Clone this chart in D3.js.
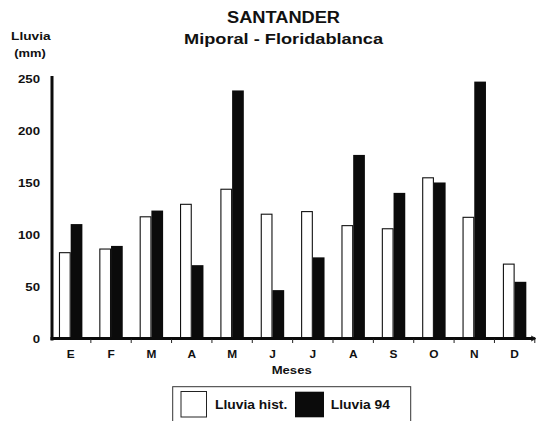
<!DOCTYPE html>
<html>
<head>
<meta charset="utf-8">
<script src="https://cdn.jsdelivr.net/npm/d3@7"></script>
<style>
  html, body { margin: 0; padding: 0; background: #fff; }
  svg { display: block; }
  text { font-family: "Liberation Sans", Arial, Helvetica, sans-serif; font-weight: bold; fill: #111; }
</style>
</head>
<body>
<script>
// ---- data ----
const months = ["E", "F", "M", "A", "M", "J", "J", "A", "S", "O", "N", "D"];
const seriesNames = ["Lluvia hist.", "Lluvia 94"];
const lluviaHist = [83, 86.5, 117.5, 129.5, 144, 120, 122.5, 109, 106, 155, 117, 72];
const lluvia94 = [110.5, 89.5, 123.5, 71, 239, 47, 78.5, 177, 140.5, 150.5, 247.5, 55];
const yTicks = [0, 50, 100, 150, 200, 250];
const titleLines = ["SANTANDER", "Miporal - Floridablanca"];
const yLabelLines = ["Lluvia", "(mm)"];
const xLabel = "Meses";

// ---- layout ----
const W = 543, H = 421;
const svg = d3.select("body").append("svg").attr("width", W).attr("height", H);
svg.append("rect").attr("width", W).attr("height", H).attr("fill", "#fff");

const x = d3.scaleBand().domain(d3.range(months.length)).range([50.5, 534.8])
  .paddingInner(0.42).paddingOuter(0.21);
const xs = d3.scaleBand().domain([0, 1]).range([0, x.bandwidth()]);
const y = d3.scaleLinear().domain([0, 250]).range([339, 79]);

// stretch helper: fit text to a target width factor
function stretch(sel, k) {
  sel.each(function () {
    const w = this.getComputedTextLength();
    d3.select(this).attr("textLength", w * k).attr("lengthAdjust", "spacingAndGlyphs");
  });
}
function label(txt, cx, by, size, width, anchor) {
  const t = svg.append("text").attr("x", cx).attr("y", by)
    .attr("font-size", size).attr("text-anchor", anchor || "middle").text(txt);
  if (width) t.attr("textLength", width).attr("lengthAdjust", "spacingAndGlyphs");
  return t;
}

// titles
label(titleLines[0], 283.5, 23.3, 16, 113);
label(titleLines[1], 283.5, 44.3, 15.5, 199);
label(yLabelLines[0], 30.8, 40, 11.5, 39.5);
label(yLabelLines[1], 30, 56.5, 11.5, 31.5);

// bars
const series = [lluviaHist, lluvia94];
const groups = svg.append("g").selectAll("g").data(months.map((m, i) => i)).join("g")
  .attr("transform", i => `translate(${x(i)},0)`);
groups.selectAll("rect").data(i => series.map((s, k) => ({ k, v: s[i] }))).join("rect")
  .attr("x", d => xs(d.k) + (d.k === 0 ? 0.5 : 0))
  .attr("width", d => xs.bandwidth() - (d.k === 0 ? 1 : 0))
  .attr("y", d => y(d.v))
  .attr("height", d => y(0) - y(d.v))
  .attr("fill", d => d.k === 0 ? "#fff" : "#0b0b0b")
  .attr("stroke", d => d.k === 0 ? "#111" : "none")
  .attr("stroke-width", 1.1);

// y axis
const yAxis = svg.append("g").attr("transform", "translate(52,0)")
  .call(d3.axisLeft(y).tickValues(yTicks).tickSize(0).tickPadding(12));
yAxis.select(".domain").remove();
yAxis.selectAll("text").attr("font-size", 11.5).attr("font-family", null).attr("fill", "#111").call(stretch, 1.15);
svg.append("line").attr("x1", 52).attr("x2", 52).attr("y1", 76).attr("y2", 340.5)
  .attr("stroke", "#0b0b0b").attr("stroke-width", 3);

// x axis
const xAxis = svg.append("g").attr("transform", `translate(0,${y(0)})`)
  .call(d3.axisBottom(x).tickFormat(i => months[i]).tickSize(0).tickPadding(11));
xAxis.select(".domain").remove();
xAxis.selectAll("text").attr("font-size", 11).attr("font-family", null).attr("fill", "#111").call(stretch, 1.08);
svg.append("line").attr("x1", 50.5).attr("x2", 535).attr("y1", y(0) - 0.5).attr("y2", y(0) - 0.5)
  .attr("stroke", "#0b0b0b").attr("stroke-width", 3);
// small ticks at band boundaries
const bounds = d3.range(1, months.length + 1).map(i => x.range()[0] + i * x.step());
svg.append("g").selectAll("line").data(bounds).join("line")
  .attr("x1", d => d).attr("x2", d => d).attr("y1", y(0)).attr("y2", y(0) + 4)
  .attr("stroke", "#222").attr("stroke-width", 1);
svg.append("path").attr("d", `M531,${y(0) - 3} L536,${y(0) - 0.5} L531,${y(0) + 2}`)
  .attr("fill", "none").attr("stroke", "#222").attr("stroke-width", 1);

// x label
label(xLabel, 291.7, 374.3, 11, 40);

// legend
svg.append("rect").attr("x", 172.7).attr("y", 386.7).attr("width", 238).attr("height", 60)
  .attr("fill", "none").attr("stroke", "#333").attr("stroke-width", 1);
svg.append("rect").attr("x", 181).attr("y", 391.5).attr("width", 25.5).attr("height", 25.5)
  .attr("fill", "#fff").attr("stroke", "#222").attr("stroke-width", 1);
svg.append("rect").attr("x", 295).attr("y", 391.7).attr("width", 29).attr("height", 25.6)
  .attr("fill", "#0b0b0b");
label(seriesNames[0], 215, 409, 13, 72.3, "start");
label(seriesNames[1], 330.7, 409, 13, 59.3, "start");
</script>
</body>
</html>
